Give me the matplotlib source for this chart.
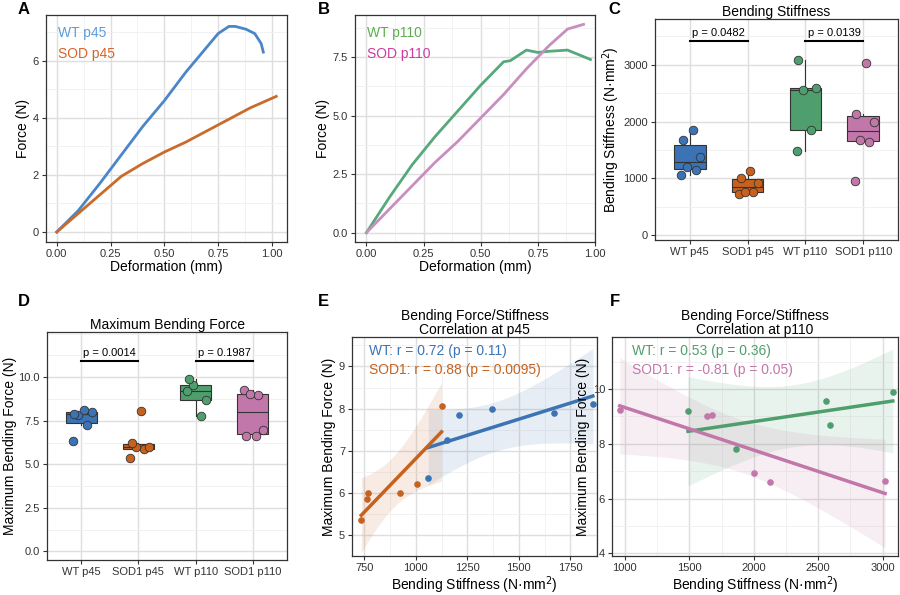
import numpy as np
import matplotlib
matplotlib.use("Agg")
import matplotlib.pyplot as plt
from matplotlib.ticker import AutoMinorLocator

plt.rcParams['font.family'] = ['Liberation Sans', 'DejaVu Sans']

# Panel A: force-deformation curves p45
a_wt_x = [0, 0.1, 0.2, 0.3, 0.4, 0.5, 0.6, 0.7, 0.75, 0.8, 0.83, 0.88, 0.92, 0.95, 0.96]
a_wt_y = [0, 0.75, 1.7, 2.7, 3.7, 4.6, 5.6, 6.5, 6.95, 7.2, 7.2, 7.1, 6.95, 6.6, 6.3]
a_sod_x = [0, 0.1, 0.2, 0.3, 0.4, 0.5, 0.6, 0.7, 0.8, 0.9, 1.02]
a_sod_y = [0, 0.65, 1.3, 1.95, 2.4, 2.8, 3.15, 3.55, 3.95, 4.35, 4.75]
# Panel B: p110
b_wt_x = [0, 0.1, 0.2, 0.3, 0.4, 0.5, 0.55, 0.6, 0.63, 0.7, 0.75, 0.8, 0.88, 0.93, 0.98]
b_wt_y = [0, 1.5, 2.9, 4.1, 5.2, 6.3, 6.8, 7.3, 7.35, 7.8, 7.7, 7.75, 7.8, 7.6, 7.4]
b_sod_x = [0, 0.1, 0.2, 0.3, 0.4, 0.5, 0.6, 0.7, 0.8, 0.88, 0.95]
b_sod_y = [0, 1.0, 2.0, 3.0, 3.9, 4.9, 5.9, 7.0, 8.0, 8.7, 8.9]

groups = ['WT p45', 'SOD1 p45', 'WT p110', 'SOD1 p110']
stiff_wt45 = [1060, 1150, 1210, 1370, 1670, 1860]
stiff_sod45 = [735, 765, 770, 925, 1005, 1125]
stiff_wt110 = [1490, 1860, 2560, 2590, 3080]
stiff_sod110 = [960, 1640, 1680, 2000, 2130, 3020]
force_wt45 = [6.35, 7.25, 7.85, 8.0, 7.9, 8.1]
force_sod45 = [5.35, 5.85, 6.0, 6.0, 6.2, 8.05]
force_wt110 = [9.2, 7.8, 9.55, 8.7, 9.9]
force_sod110 = [9.25, 9.0, 9.05, 6.95, 6.6, 6.65]
p_stiff = ['p = 0.0482', 'p = 0.0139']
p_force = ['p = 0.0014', 'p = 0.1987']

C_BLUE, C_ORANGE, C_GREEN, C_PINK = '#3B73B4', '#C7621E', '#4F9E6E', '#C277AA'
box_colors = [C_BLUE, C_ORANGE, C_GREEN, C_PINK]

fig = plt.figure(figsize=(9, 5.95), dpi=100)
W, H = 900, 595


def add_ax(l, t, r, b):
    return fig.add_axes([l / W, 1 - b / H, (r - l) / W, (b - t) / H])


def style(ax):
    ax.set_facecolor('white')
    ax.xaxis.set_minor_locator(AutoMinorLocator(2))
    ax.yaxis.set_minor_locator(AutoMinorLocator(2))
    ax.grid(which='major', color='#DEDEDE', linewidth=1.0)
    ax.grid(which='minor', color='#F0F0F0', linewidth=0.6)
    ax.set_axisbelow(True)
    for s in ax.spines.values():
        s.set_color('#333333')
        s.set_linewidth(0.9)
    ax.tick_params(which='major', labelsize=8, colors='#333333', length=3, pad=2)
    ax.tick_params(which='minor', length=0)


def label(x, y, s):
    fig.text(x / W, 1 - y / H, s, fontsize=12, fontweight='bold', va='center', ha='left')


# A
ax = add_ax(46, 15, 287, 242)
style(ax)
ax.plot(a_wt_x, a_wt_y, color='#4A86C8', lw=2)
ax.plot(a_sod_x, a_sod_y, color='#C96B2A', lw=2)
ax.set_xlim(-0.05, 1.07); ax.set_ylim(-0.35, 7.6)
ax.set_xticks([0, 0.25, 0.5, 0.75, 1.0]); ax.set_yticks([0, 2, 4, 6])
ax.set_xticklabels(['0.00', '0.25', '0.50', '0.75', '1.00'])
ax.set_xlabel('Deformation (mm)', fontsize=10, labelpad=1)
ax.set_ylabel('Force (N)', fontsize=10, labelpad=2)
ax.text(0.05, 0.95, 'WT p45', color='#5B9BDB', transform=ax.transAxes, fontsize=10, va='top')
ax.text(0.05, 0.86, 'SOD p45', color='#D9622B', transform=ax.transAxes, fontsize=10, va='top')
label(18, 9, 'A')

# B
ax = add_ax(355, 15, 595, 242)
style(ax)
ax.plot(b_wt_x, b_wt_y, color='#55A97A', lw=2)
ax.plot(b_sod_x, b_sod_y, color='#C98DBE', lw=2)
ax.set_xlim(-0.05, 1.0); ax.set_ylim(-0.4, 9.3)
ax.set_xticks([0, 0.25, 0.5, 0.75, 1.0]); ax.set_yticks([0, 2.5, 5, 7.5])
ax.set_xticklabels(['0.00', '0.25', '0.50', '0.75', '1.00'])
ax.set_yticklabels(['0.0', '2.5', '5.0', '7.5'])
ax.set_xlabel('Deformation (mm)', fontsize=10, labelpad=1)
ax.set_ylabel('Force (N)', fontsize=10, labelpad=2)
ax.text(0.05, 0.95, 'WT p110', color='#5DAE4E', transform=ax.transAxes, fontsize=10, va='top')
ax.text(0.05, 0.86, 'SOD p110', color='#CC3D9E', transform=ax.transAxes, fontsize=10, va='top')
label(318, 9, 'B')


def box_panel(ax, data, ylim, yticks, yticklabels, brack_y, pvals, title, ylabel, off):
    style(ax)
    ax.xaxis.set_minor_locator(plt.NullLocator())
    pos = np.arange(1, 5)
    bp = ax.boxplot(data, positions=pos, widths=0.55, patch_artist=True, showfliers=False,
                    medianprops=dict(color='#333333', lw=0.8),
                    whiskerprops=dict(color='#333333', lw=0.8),
                    capprops=dict(lw=0), boxprops=dict(edgecolor='#333333', lw=0.8))
    for patch, c in zip(bp['boxes'], box_colors):
        patch.set_facecolor(c)
    jit = [-0.15, 0.1, -0.05, 0.18, -0.12, 0.05]
    for i, d in enumerate(data):
        ax.scatter([pos[i] + jit[k % 6] for k in range(len(d))], d, s=38,
                   color=box_colors[i], edgecolor='#333333', linewidth=0.6, zorder=3)
    for j, (x0, x1) in enumerate([(1, 2), (3, 4)]):
        ax.plot([x0, x1], [brack_y, brack_y], color='black', lw=1.5)
        ax.text((x0 + x1) / 2, brack_y + off, pvals[j], ha='center', va='bottom', fontsize=8)
    ax.set_xlim(0.4, 4.6); ax.set_ylim(*ylim)
    ax.set_xticks(pos); ax.set_xticklabels(groups)
    ax.set_yticks(yticks); ax.set_yticklabels(yticklabels)
    ax.set_title(title, fontsize=10, pad=2)
    ax.set_ylabel(ylabel, fontsize=10, labelpad=1)


# C
ax = add_ax(655, 19, 898, 240)
box_panel(ax, [stiff_wt45, stiff_sod45, stiff_wt110, stiff_sod110], (-80, 3800),
          [0, 1000, 2000, 3000], ['0', '1000', '2000', '3000'], 3420, p_stiff,
          'Bending Stiffness', 'Bending Stiffness (N·mm$^2$)', 40)
label(608, 9, 'C')

# D
ax = add_ax(47, 332, 287, 560)
box_panel(ax, [force_wt45, force_sod45, force_wt110, force_sod110], (-0.5, 12.6),
          [0, 2.5, 5, 7.5, 10], ['0.0', '2.5', '5.0', '7.5', '10.0'], 10.95, p_force,
          'Maximum Bending Force', 'Maximum Bending Force (N)', 0.15)
label(18, 302, 'D')


def fit_ci(ax, x, y, color):
    x = np.asarray(x, float); y = np.asarray(y, float)
    n = len(x)
    b, a = np.polyfit(x, y, 1)
    xs = np.linspace(x.min(), x.max(), 100)
    ys = a + b * xs
    resid = y - (a + b * x)
    s = np.sqrt(np.sum(resid ** 2) / (n - 2))
    tcrit = {3: 3.182, 4: 2.776, 5: 2.571}.get(n - 2, 2.5)
    se = s * np.sqrt(1 / n + (xs - x.mean()) ** 2 / np.sum((x - x.mean()) ** 2))
    ax.fill_between(xs, ys - tcrit * se, ys + tcrit * se, color=color, alpha=0.12, lw=0)
    ax.plot(xs, ys, color=color, lw=2.5)
    ax.scatter(x, y, s=14, color=color, zorder=3)


# E
ax = add_ax(352, 337, 597, 556)
style(ax)
fit_ci(ax, stiff_wt45, force_wt45, C_BLUE)
fit_ci(ax, stiff_sod45, force_sod45, C_ORANGE)
ax.set_xlim(690, 1880); ax.set_ylim(4.5, 9.7)
ax.set_xticks([750, 1000, 1250, 1500, 1750]); ax.set_yticks([5, 6, 7, 8, 9])
ax.set_title('Bending Force/Stiffness\nCorrelation at p45', fontsize=10, pad=2, linespacing=1.0)
ax.set_xlabel('Bending Stiffness (N·mm$^2$)', fontsize=10, labelpad=1)
ax.set_ylabel('Maximum Bending Force (N)', fontsize=10, labelpad=2)
ax.text(0.07, 0.97, 'WT: r = 0.72 (p = 0.11)', color=C_BLUE, transform=ax.transAxes, fontsize=10, va='top')
ax.text(0.07, 0.88, 'SOD1: r = 0.88 (p = 0.0095)', color=C_ORANGE, transform=ax.transAxes, fontsize=10, va='top')
label(318, 302, 'E')

# F
ax = add_ax(612, 337, 898, 556)
style(ax)
fit_ci(ax, stiff_wt110, force_wt110, C_GREEN)
fit_ci(ax, stiff_sod110, force_sod110, C_PINK)
ax.set_xlim(900, 3120); ax.set_ylim(3.9, 11.9)
ax.set_xticks([1000, 1500, 2000, 2500, 3000]); ax.set_yticks([4, 6, 8, 10])
ax.set_title('Bending Force/Stiffness\nCorrelation at p110', fontsize=10, pad=2, linespacing=1.0)
ax.set_xlabel('Bending Stiffness (N·mm$^2$)', fontsize=10, labelpad=1)
ax.set_ylabel('Maximum Bending Force (N)', fontsize=10, labelpad=2)
ax.text(0.07, 0.97, 'WT: r = 0.53 (p = 0.36)', color=C_GREEN, transform=ax.transAxes, fontsize=10, va='top')
ax.text(0.07, 0.88, 'SOD1: r = -0.81 (p = 0.05)', color=C_PINK, transform=ax.transAxes, fontsize=10, va='top')
label(610, 302, 'F')

fig.savefig('out.png', dpi=100)
